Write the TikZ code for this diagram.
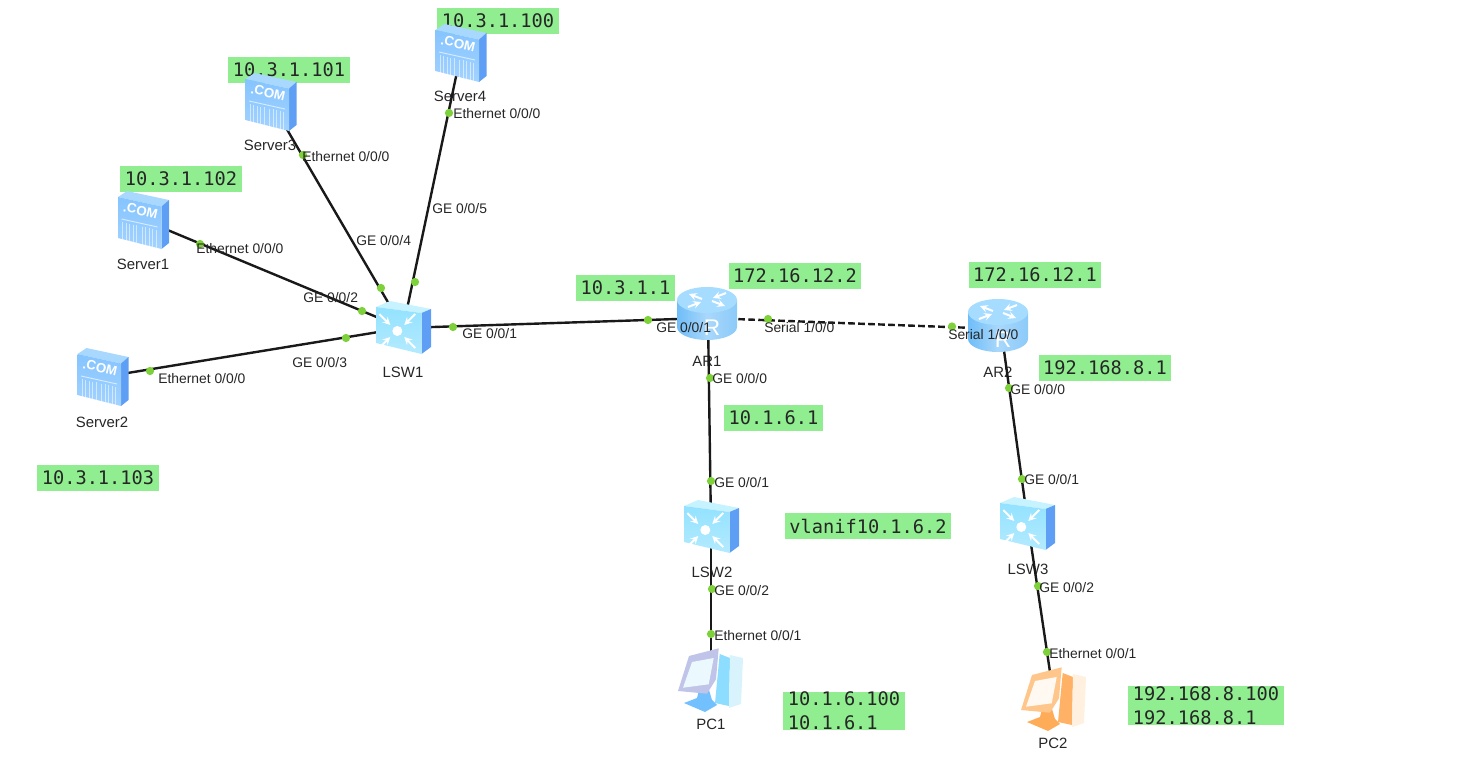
\documentclass[tikz,border=0pt]{standalone}
\usepackage{fontspec}
\setmainfont{Liberation Sans}
\setmonofont{DejaVu Sans Mono}
\tikzset{
  ipbox/.style={fill=ipgreen,inner xsep=3.4pt,inner ysep=0pt,minimum height=19.5pt,align=left,font=\ttfamily\fontsize{14}{18}\selectfont,text=black!85},
  devnode/.style={inner sep=0pt,minimum width=30pt,minimum height=30pt},
  devlabel/.style={font=\fontsize{11.2}{13}\selectfont,text=black!85,inner sep=0pt},
  portlabel/.style={font=\fontsize{10.4}{12}\selectfont,text=black!85,anchor=west,inner sep=0pt},
  portdot/.style={circle,fill=portgreen,inner sep=0pt,minimum size=6.2pt},
  link/.style={line width=1.8pt,black!90},
  iconarrow/.style={white,line width=1.5pt,->,>=stealth},
  pics/servericon/.style={code={
    \fill[srvtop] (-25.5,-23)--(-16.5,-29)--(25.5,-20)--(18,-13.5)--cycle;
    \fill[srvside] (18,-13.5)--(25.5,-20)--(25.5,23)--(18,29)--cycle;
    \shade[top color=srvfront,bottom color=srvfront!75!white] (-25.5,-23)--(18,-13.5)--(18,29)--(-25.5,18)--cycle;
    \draw[white,opacity=.6,line width=.7pt] (-22,-1)--(14,7);
    \foreach \gx in {-21,-17.5,-14,-10.5,-7,-1.5,2,5.5,9,12.5} {
      \draw[white,opacity=.55,line width=.7pt] (\gx,{2+.22*(\gx+22)})--(\gx,{20+.22*(\gx+22)});
    }
    \node[white,rotate=-13,inner sep=0pt,font=\bfseries\fontsize{10}{12}\selectfont] (comtext) at (-3,-9.5) {.COM};
  }},
  pics/switchicon/.style={code={
    \fill[swtop] (-27,-21)--(-13,-27)--(28,-19)--(18.5,-15)--cycle;
    \fill[srvside] (18.5,-15)--(28,-19)--(28,19)--(18.5,26)--cycle;
    \shade[top color=swfront,bottom color=swfront!70!white] (-27,-21)--(18.5,-15)--(18.5,26)--(-27,15)--cycle;
    \fill[white] (-5.7,3) circle (5);
    \foreach \sx/\sy in {-1/-1,1/-1,-1/1,1/1} {
      \draw[iconarrow] (-5.7+\sx*18,3+\sy*17)--(-5.7+\sx*7,3+\sy*6);
    }
  }},
  pics/routericon/.style={code={
    \shade[left color=rtbody,right color=rtbody!80!white,middle color=rtbody!60!white] (-30,-13)--(30,-13)--(30,14) arc[start angle=0,end angle=180,x radius=30,y radius=13]--cycle;
    \fill[rttop] (0,-13) ellipse (30 and 13);
    \foreach \sx/\sy in {-1/-1,1/1} {
      \draw[iconarrow] (\sx*5,-13+\sy*1)--(\sx*18,-13+\sy*6);
    }
    \foreach \sx/\sy in {1/-1,-1/1} {
      \draw[iconarrow] (\sx*19,-13+\sy*7)--(\sx*6,-13+\sy*2);
    }
    \node[white,inner sep=0pt,font=\fontsize{17}{20}\selectfont] (rtext) at (5,15) {R};
  }},
  pics/pcicon/.style n args={5}{code={
    \fill[#4] (9.7,-26)--(20,-22)--(19,26)--(5,23)--cycle;
    \fill[#5] (20,-25)--(33,-22)--(31,24)--(19,28)--cycle;
    \fill[#3] (-26,23)--(-13,18)--(-11,10)--(-1,10)--(2,20)--(7,25)--(-5,32)--cycle;
    \fill[#1] (-21,-24)--(8.7,-31.7)--(6,-.7)--(-3,13.7)--(-32,11)--cycle;
    \fill[#2] (-18,-18)--(3.7,-22)--(-1.3,4.3)--(-27,7.7)--cycle;
  }},
}
\definecolor{ipgreen}{HTML}{90EE90}
\definecolor{portgreen}{HTML}{7FD13B}
\definecolor{srvtop}{HTML}{A9D8FF}
\definecolor{srvfront}{HTML}{85C4FF}
\definecolor{srvside}{HTML}{5E9EF5}
\definecolor{swtop}{HTML}{C6F3FF}
\definecolor{swfront}{HTML}{93E2FF}
\definecolor{rtbody}{HTML}{6FBDF8}
\definecolor{rttop}{HTML}{A5DCFF}
\begin{document}
\begin{tikzpicture}[x=.75pt,y=-.75pt]
  \useasboundingbox (0,0) rectangle (1459,774);
  % address boxes
  \node[ipbox] (ip100) at (498,21) {10.3.1.100};
  \node[ipbox] (ip101) at (289,70) {10.3.1.101};
  \node[ipbox] (ip102) at (181,179) {10.3.1.102};
  \node[ipbox] (ip103) at (98,477.5) {10.3.1.103};
  \node[ipbox] (ipgw) at (625.5,287.5) {10.3.1.1};
  \node[ipbox] (ipar1) at (795,275.5) {172.16.12.2};
  \node[ipbox] (ipar2) at (1035,275) {172.16.12.1};
  \node[ipbox] (ipar2lan) at (1105,368) {192.168.8.1};
  \node[ipbox] (ipar1lan) at (773.5,418) {10.1.6.1};
  \node[ipbox] (ipvlan) at (868,526) {vlanif10.1.6.2};
  \node[ipbox] (ippc1) at (844,711) {10.1.6.100\\10.1.6.1};
  \node[ipbox] (ippc2) at (1206,705.5) {192.168.8.100\\192.168.8.1};
  % devices
  \node[devnode] (srv1) at (143.5,220) {};
  \node[devnode] (srv2) at (103,377) {};
  \node[devnode] (srv3) at (271,102) {};
  \node[devnode] (srv4) at (461,53) {};
  \node[devnode] (lsw1) at (403,328) {};
  \node[devnode] (ar1) at (708,318) {};
  \node[devnode] (ar2) at (1001,329) {};
  \node[devnode] (lsw2) at (711,527) {};
  \node[devnode] (lsw3) at (1028,524) {};
  \node[devnode] (pc1) at (711,680) {};
  \node[devnode] (pc2) at (1054,699) {};
  % device names
  \node[devlabel] (srv1name) at (143,264) {Server1};
  \node[devlabel] (srv2name) at (102,422) {Server2};
  \node[devlabel] (srv3name) at (270,145) {Server3};
  \node[devlabel] (srv4name) at (460,96) {Server4};
  \node[devlabel] (lsw1name) at (403,372) {LSW1};
  \node[devlabel] (ar1name) at (707,361) {AR1};
  \node[devlabel] (ar2name) at (998,372) {AR2};
  \node[devlabel] (lsw2name) at (712,572) {LSW2};
  \node[devlabel] (lsw3name) at (1028,569) {LSW3};
  \node[devlabel] (pc1name) at (711,724) {PC1};
  \node[devlabel] (pc2name) at (1053,743) {PC2};
  % links
  \draw[link] (srv1)--(lsw1);
  \draw[link] (srv2)--(lsw1);
  \draw[link] (srv3)--(lsw1);
  \draw[link] (srv4)--(lsw1);
  \draw[link] (lsw1)--(ar1);
  \draw[link,dash pattern=on 5pt off 2.5pt] (ar1)--(ar2);
  \draw[link] (ar1)--(lsw2);
  \draw[link] (ar2)--(lsw3);
  \draw[link] (lsw2)--(pc1);
  \draw[link] (lsw3)--(pc2);
  % icons
  \pic at (143.5,220) {servericon};
  \pic at (103,377) {servericon};
  \pic at (271,102) {servericon};
  \pic at (461,53) {servericon};
  \pic at (403,328) {switchicon};
  \pic at (711,527) {switchicon};
  \pic at (1027,524) {switchicon};
  \pic at (707,313) {routericon};
  \pic at (998,325) {routericon};
  \pic at (710,680) {pcicon={cyan!30!blue!25!white}{cyan!8!white}{blue!45!cyan!55!white}{blue!30!cyan!45!white}{cyan!15!white}};
  \pic at (1053,699) {pcicon={orange!45!white}{orange!5!white}{orange!65!white}{orange!60!white}{orange!12!white}};
  % port dots
  \node[portdot] (d1) at (200,244) {};
  \node[portdot] (d2) at (362,311) {};
  \node[portdot] (d3) at (150,371) {};
  \node[portdot] (d4) at (346,338) {};
  \node[portdot] (d5) at (303,155) {};
  \node[portdot] (d6) at (381,288) {};
  \node[portdot] (d7) at (449,113) {};
  \node[portdot] (d8) at (415,282) {};
  \node[portdot] (d9) at (453,327) {};
  \node[portdot] (d10) at (648,320) {};
  \node[portdot] (d11) at (768,319) {};
  \node[portdot] (d12) at (952,326.5) {};
  \node[portdot] (d13) at (710,378) {};
  \node[portdot] (d14) at (711,481) {};
  \node[portdot] (d15) at (1009,388) {};
  \node[portdot] (d16) at (1022,479) {};
  \node[portdot] (d17) at (712,589) {};
  \node[portdot] (d18) at (711,634) {};
  \node[portdot] (d19) at (1038,586) {};
  \node[portdot] (d20) at (1047,652) {};
  % port names
  \node[portlabel] (l1) at (196,249) {Ethernet 0/0/0};
  \node[portlabel] (l2) at (303,298) {GE 0/0/2};
  \node[portlabel] (l3) at (158,379) {Ethernet 0/0/0};
  \node[portlabel] (l4) at (292,363) {GE 0/0/3};
  \node[portlabel] (l5) at (302,157) {Ethernet 0/0/0};
  \node[portlabel] (l6) at (356,241) {GE 0/0/4};
  \node[portlabel] (l7) at (453,114) {Ethernet 0/0/0};
  \node[portlabel] (l8) at (432,209) {GE 0/0/5};
  \node[portlabel] (l9) at (462,334) {GE 0/0/1};
  \node[portlabel] (l10) at (656,328) {GE 0/0/1};
  \node[portlabel] (l11) at (764,328) {Serial 1/0/0};
  \node[portlabel] (l12) at (948,335) {Serial 1/0/0};
  \node[portlabel] (l13) at (712,379) {GE 0/0/0};
  \node[portlabel] (l14) at (714,483) {GE 0/0/1};
  \node[portlabel] (l15) at (1010,390) {GE 0/0/0};
  \node[portlabel] (l16) at (1024,480) {GE 0/0/1};
  \node[portlabel] (l17) at (714,591) {GE 0/0/2};
  \node[portlabel] (l18) at (714,636) {Ethernet 0/0/1};
  \node[portlabel] (l19) at (1039,588) {GE 0/0/2};
  \node[portlabel] (l20) at (1049,654) {Ethernet 0/0/1};
\end{tikzpicture}
\end{document}
